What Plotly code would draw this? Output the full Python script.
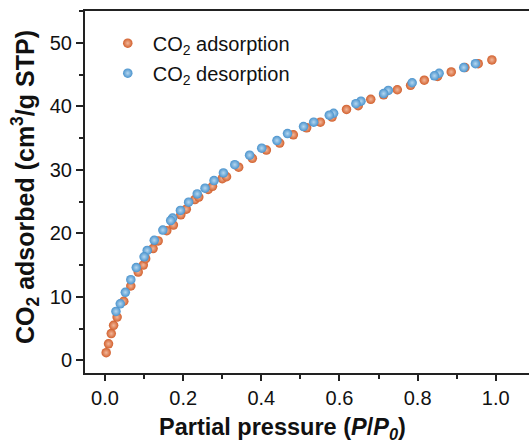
import plotly.graph_objects as go

ads_x = [0.003, 0.009, 0.016, 0.022, 0.031, 0.048, 0.066, 0.085, 0.098, 0.104, 0.123, 0.136,
         0.158, 0.175, 0.194, 0.208, 0.230, 0.240, 0.264, 0.275, 0.300, 0.311, 0.342, 0.377,
         0.413, 0.447, 0.482, 0.516, 0.551, 0.581, 0.618, 0.648, 0.680, 0.713, 0.748, 0.782,
         0.817, 0.851, 0.886, 0.921, 0.955, 0.990]
ads_y = [1.2, 2.6, 4.2, 5.5, 6.8, 9.3, 11.7, 13.9, 15.0, 16.0, 17.6, 18.8,
         20.4, 21.3, 22.9, 23.8, 25.3, 25.7, 26.9, 27.4, 28.6, 28.9, 30.4, 31.8,
         33.1, 34.2, 35.5, 36.6, 37.5, 38.3, 39.5, 40.1, 41.1, 41.8, 42.6, 43.3,
         44.1, 44.7, 45.4, 46.1, 46.7, 47.3]

des_x = [0.948, 0.918, 0.855, 0.843, 0.786, 0.725, 0.713, 0.655, 0.642, 0.585, 0.574, 0.534,
         0.508, 0.467, 0.440, 0.401, 0.370, 0.332, 0.303, 0.279, 0.256, 0.236, 0.214, 0.193,
         0.173, 0.168, 0.148, 0.126, 0.108, 0.100, 0.080, 0.066, 0.052, 0.039, 0.028]
des_y = [46.7, 46.1, 45.2, 44.8, 43.7, 42.5, 42.0, 40.8, 40.4, 38.9, 38.6, 37.5,
         36.8, 35.7, 34.6, 33.4, 32.3, 30.8, 29.5, 28.3, 27.1, 26.2, 24.9, 23.6,
         22.4, 22.0, 20.5, 18.9, 17.3, 16.3, 14.6, 12.7, 10.7, 8.9, 7.7]

x_ticks = [0.0, 0.2, 0.4, 0.6, 0.8, 1.0]
x_tick_labels = ["0.0", "0.2", "0.4", "0.6", "0.8", "1.0"]
y_ticks = [0, 10, 20, 30, 40, 50]

ORANGE = "#D2602D"
BLUE = "#4A93CD"
FONT = "Liberation Sans, Arial, sans-serif"

fig = go.Figure()
fig.add_trace(go.Scatter(
    x=ads_x, y=ads_y, mode="markers", name="CO<sub>2</sub> adsorption",
    legendgroup="a",
    marker=dict(size=9.5, color=ORANGE, line=dict(width=0),
                gradient=dict(type="radial", color="#F2B79A")),
))
fig.add_trace(go.Scatter(
    x=des_x, y=des_y, mode="markers", name="CO<sub>2</sub> desorption",
    legendgroup="b",
    marker=dict(size=9.5, color=BLUE, line=dict(width=0),
                gradient=dict(type="radial", color="#B5D7F0")),
))

axis_common = dict(
    showline=True, linecolor="#222", linewidth=2,
    ticks="outside", tickwidth=1.5, tickcolor="#222",
    showgrid=False, zeroline=False, automargin=False,
    tickfont=dict(family=FONT, size=20, color="#111"),
)

fig.update_xaxes(
    range=[-0.0512, 1.085], tickvals=x_ticks, ticktext=x_tick_labels,
    mirror=True, ticklen=6,
    minor=dict(dtick=0.1, tick0=0, ticks="outside", ticklen=4, tickwidth=1.5, tickcolor="#222"),
    **axis_common,
)
fig.update_yaxes(
    range=[-2.0, 55], tickvals=y_ticks,
    mirror=False, ticklen=7,
    minor=dict(dtick=5, tick0=0, ticks="outside", ticklen=4, tickwidth=1.5, tickcolor="#222"),
    **axis_common,
)

fig.add_annotation(
    text="<b>Partial pressure (<i>P</i>/<i>P</i><sub><i>0</i></sub>)</b>",
    xref="paper", yref="paper", x=0.4437, y=-0.108, xanchor="center", yanchor="top",
    showarrow=False, font=dict(family=FONT, size=23.5, color="#111"),
)
fig.add_annotation(
    text="<b>CO<sub>2</sub> adsorbed (cm<sup>3</sup>/g STP)</b>",
    xref="paper", yref="paper", x=-0.135, y=0.514, xanchor="center", yanchor="middle",
    textangle=-90, showarrow=False, font=dict(family=FONT, size=25, color="#111"),
)

fig.update_layout(
    width=529, height=443,
    margin=dict(l=85, r=0, t=11, b=70),
    paper_bgcolor="white", plot_bgcolor="white",
    showlegend=True,
    legend=dict(x=0.04, y=0.965, xanchor="left", yanchor="top",
                font=dict(family=FONT, size=20, color="#111"),
                itemwidth=40,
                bgcolor="rgba(0,0,0,0)", tracegroupgap=1),
)

fig.write_html("out.html", config={"displayModeBar": False},
               post_script="document.body.style.margin='0';document.body.style.overflow='hidden';")
